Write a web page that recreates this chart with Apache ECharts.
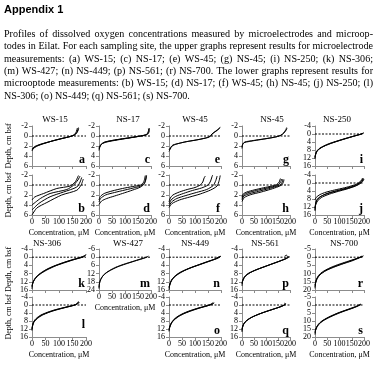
<!DOCTYPE html>
<html><head><meta charset="utf-8">
<script src="https://cdn.jsdelivr.net/npm/echarts@6/dist/echarts.min.js"></script>
<style>html,body{margin:0;padding:0;background:#fff}#c{width:377px;height:367px}</style>
</head><body><div id="c"></div>
<script>
// ---------- text ----------
const heading = 'Appendix 1';
const paragraphLines = [
 'Profiles of dissolved oxygen concentrations measured by microelectrodes and microop-',
 'todes in Eilat. For each sampling site, the upper graphs represent results for microelectrode',
 'measurements: (a) WS-15; (c) NS-17; (e) WS-45; (g) NS-45; (i) NS-250; (k) NS-306;',
 '(m) WS-427; (n) NS-449; (p) NS-561; (r) NS-700. The lower graphs represent results for',
 'microoptode measurements: (b) WS-15; (d) NS-17; (f) WS-45; (h) NS-45; (j) NS-250; (l)',
 'NS-306; (o) NS-449; (q) NS-561; (s) NS-700.'
];
const topTitles = ['WS-15','NS-17','WS-45','NS-45','NS-250'];
const lowTitles = ['NS-306','WS-427','NS-449','NS-561','NS-700'];
const xAxisName = 'Concentration, μM';
const yAxisName = 'Depth, cm bsf';
const concTicks = [0, 50, 100, 150, 200];
const zeroLineConc = [0, 200];

// ---------- profiles: [concentration µM, depth cm] ----------
const prof_a = [
 [[0,3.0],[5,2.5],[20,2.0],[45,1.5],[75,1.0],[105,0.6],[135,0.2],[152,-0.1],[162,-0.6],[166,-1.2],[168,-1.6]],
 [[0,2.8],[8,2.3],[25,1.8],[55,1.3],[85,0.85],[115,0.45],[142,0.1],[158,-0.2],[166,-0.7],[170,-1.3],[172,-1.7]],
 [[0,2.6],[10,2.1],[35,1.6],[65,1.15],[95,0.7],[125,0.3],[148,0],[162,-0.4],[170,-1.0],[173,-1.5]]
];
const prof_c = [
 [[0,2.9],[3,2.2],[10,1.6],[30,1.2],[70,0.8],[110,0.45],[150,0.1],[180,-0.2],[188,-0.7],[192,-1.4]],
 [[0,2.6],[5,2.0],[15,1.4],[40,1.0],[80,0.65],[120,0.35],[160,0],[184,-0.3],[191,-0.9],[194,-1.6]],
 [[0,2.4],[6,1.8],[20,1.25],[50,0.9],[90,0.55],[130,0.25],[168,-0.1],[188,-0.4],[193,-1.0],[190,-1.5]]
];
const prof_e = [
 [[0,3.1],[5,2.6],[12,2.0],[30,1.6],[60,1.2],[100,0.85],[140,0.4],[158,0.05],[165,-0.4],[180,-1.0],[192,-1.5],[198,-1.8]],
 [[0,2.8],[6,2.3],[15,1.8],[40,1.45],[75,1.05],[115,0.7],[150,0.3],[162,-0.05],[168,-0.5],[185,-1.1],[196,-1.6]]
];
const prof_g = [
 [[0,2.5],[2,1.8],[8,1.35],[30,1.1],[60,0.85],[100,0.55],[135,0.25],[160,-0.1],[175,-0.7],[183,-1.3],[186,-1.7]],
 [[0,2.2],[3,1.6],[12,1.2],[40,0.95],[75,0.7],[115,0.4],[148,0.1],[168,-0.3],[180,-0.9],[188,-1.5]]
];
const prof_i = [
 [[0,12.5],[1,11],[5,9],[15,7.5],[35,6],[60,4.7],[90,3.5],[125,2.2],[160,1.0],[185,0.2],[196,-0.4]],
 [[0,12],[2,10.5],[8,8.6],[20,7.2],[42,5.8],[68,4.5],[98,3.3],[132,2.0],[166,0.8],[190,0],[198,-0.6]],
 [[0,11.5],[3,10],[10,8.3],[25,6.9],[48,5.5],[75,4.3],[105,3.1],[140,1.8],[172,0.6],[193,-0.2],[199,-0.5]]
];
const prof_b = [
 [[0,3.0],[10,2.4],[43,1.7],[92,0.7],[141,0.2],[160,-0.6],[172,-1.9]],
 [[0,4.0],[31,2.7],[67,1.7],[129,0.9],[153,0.07],[170,-1.0],[178,-1.8]],
 [[0,5.0],[25,3.7],[67,2.35],[117,1.4],[166,0.4],[178,-0.6],[184,-1.5]],
 [[0,6.0],[18,4.6],[55,3.5],[110,2.0],[166,1.05],[182,0],[190,-1.2]]
];
const prof_d = [
 [[0,3.0],[5,2.3],[20,1.7],[50,1.2],[90,0.7],[130,0.3],[160,0],[172,-0.6],[178,-1.9]],
 [[0,3.4],[6,2.7],[25,2.0],[60,1.5],[100,1.0],[140,0.5],[165,0.1],[178,-0.7],[183,-1.9]],
 [[0,3.9],[10,3.2],[30,2.7],[60,2.2],[90,1.7],[130,1.0],[160,0.4],[175,-0.3],[182,-1.9]]
];
const prof_f = [
 [[0,3.4],[5,2.6],[15,2.0],[40,1.4],[70,0.9],[100,0.5],[120,0],[130,-0.6],[135,-1.4],[140,-1.8]],
 [[0,3.8],[8,3.0],[25,2.3],[55,1.7],[90,1.1],[125,0.6],[150,0],[160,-0.8],[165,-1.6],[168,-2]],
 [[0,4.2],[10,3.4],[30,2.7],[65,2.1],[105,1.5],[145,0.9],[170,0.1],[180,-0.9],[185,-1.8]],
 [[0,4.5],[12,3.7],[40,3.0],[80,2.4],[120,1.8],[160,1.0],[185,0.2],[193,-0.9],[197,-1.9]]
];
const prof_h = [
 [[0,2.4],[5,1.8],[20,1.4],[50,1.0],[90,0.55],[125,0.2],[145,-0.1],[155,-0.6],[160,-1.3]],
 [[0,2.7],[6,2.0],[25,1.55],[60,1.1],[100,0.65],[135,0.25],[152,-0.1],[162,-0.7],[165,-1.2]],
 [[0,3.0],[8,2.2],[30,1.75],[70,1.25],[110,0.75],[142,0.3],[158,0],[168,-0.6],[170,-1.2]],
 [[0,3.3],[10,2.5],[35,1.95],[80,1.4],[120,0.85],[150,0.35],[165,0],[172,-0.5],[175,-1.1]]
];
const prof_j = [
 [[0,13.5],[2,11],[6,9],[15,7.5],[35,6],[65,4.8],[100,3.7],[135,2.6],[165,1.4],[185,0],[195,-1.5],[198,-2.2]],
 [[0,12.5],[3,10],[10,8],[25,6.6],[50,5.2],[80,4.1],[115,3.0],[150,1.8],[175,0.5],[190,-1],[196,-2.3]],
 [[0,8.5],[5,7.2],[20,5.8],[45,4.6],[80,3.5],[120,2.4],[155,1.2],[178,0],[190,-1.5],[194,-2.5]],
 [[0,14],[1,12],[4,10.5],[12,8.7],[30,7],[60,5.5],[95,4.2],[130,3.0],[160,1.8],[182,0.5],[195,-0.8],[200,-2]]
];
const prof_k = [
 [[0,15.5],[2,13],[8,11],[20,9],[40,7],[65,5.2],[95,3.6],[130,2.0],[160,0.8],[185,-0.2],[195,-0.8]],
 [[0,14.5],[3,12.5],[12,10.3],[28,8.3],[50,6.4],[78,4.6],[110,3.0],[145,1.5],[175,0.4],[192,-0.3],[198,-1]],
 [[0,14],[5,12],[16,9.8],[35,7.8],[60,5.9],[90,4.1],[125,2.5],[158,1.1],[185,0.1],[196,-0.6],[200,-1.5]]
];
const prof_m = [
 [[0,23],[1,20],[4,17.5],[10,15],[20,12.5],[40,9.8],[65,7.3],[95,5.2],[130,3.1],[160,1.3],[180,0.2],[190,-0.8]],
 [[0,22],[2,19],[6,16.5],[14,14],[28,11.5],[50,9.0],[78,6.6],[110,4.5],[145,2.4],[172,0.8],[186,-0.2]]
];
const prof_n = [
 [[0,16],[3,13.5],[8,11.5],[20,9.5],[40,7.6],[70,5.8],[105,4.1],[140,2.5],[170,1.2],[190,0],[200,-0.5]],
 [[0,15],[4,13],[12,10.8],[28,8.8],[50,7.0],[82,5.2],[118,3.6],[152,2.0],[180,0.8],[196,-0.2]],
 [[0,14.5],[6,12.4],[16,10.3],[35,8.3],[60,6.5],[92,4.8],[128,3.2],[162,1.7],[188,0.5],[199,-0.4]]
];
const prof_p = [
 [[0,14],[2,12],[8,10],[22,8.2],[45,6.8],[75,5.4],[110,3.9],[145,2.4],[175,1.0],[190,0],[185,-1],[178,-0.6]],
 [[0,13],[3,11.5],[12,9.5],[30,7.8],[55,6.4],[88,4.9],[122,3.4],[158,1.9],[185,0.6],[195,-0.3]],
 [[0,12.5],[4,11],[15,9.1],[35,7.5],[62,6.0],[95,4.6],[130,3.1],[165,1.6],[190,0.4],[197,-0.5]]
];
const prof_r = [
 [[0,19],[2,16],[6,13.5],[15,11],[30,9],[55,6.9],[85,5],[120,3.2],[155,1.5],[180,0.2],[192,-0.7]],
 [[0,18],[3,15.5],[9,13],[22,10.5],[40,8.4],[68,6.4],[100,4.6],[135,2.8],[165,1.2],[185,0],[195,-0.5]],
 [[0,17],[4,14.5],[12,12],[28,9.8],[50,7.8],[82,5.8],[115,4.0],[150,2.3],[175,0.8],[190,-0.2],[198,-0.9]]
];
const prof_l = [
 [[0,12.8],[1,11],[4,9],[12,7.2],[28,5.4],[50,4],[80,2.6],[115,1.4],[145,0.4],[162,-0.3],[170,-1.2],[172,-1.8]],
 [[0,12.2],[2,10.5],[6,8.7],[16,7],[32,5.3],[56,3.9],[86,2.5],[120,1.3],[150,0.3],[165,-0.4],[174,-1.5]],
 [[0,11.8],[3,10],[8,8.3],[20,6.7],[38,5.1],[62,3.7],[92,2.4],[126,1.2],[155,0.2],[168,-0.6],[176,-1.2]]
];
const prof_o = [
 [[0,13.2],[2,11.5],[7,9.5],[16,7.6],[30,6.0],[50,4.5],[75,3.1],[105,1.8],[135,0.7],[158,-0.2],[170,-1.2]],
 [[0,12.6],[3,11],[9,9.1],[20,7.3],[35,5.8],[56,4.3],[82,3.0],[112,1.7],[142,0.6],[162,-0.2],[172,-0.9]],
 [[0,12.0],[4,10.5],[11,8.7],[24,7.0],[40,5.5],[62,4.1],[88,2.8],[118,1.5],[148,0.4],[165,-0.3],[174,-1.1]]
];
const prof_q = [
 [[0,13.5],[1,12],[5,10],[14,8.3],[30,6.8],[55,5.3],[85,3.9],[120,2.5],[152,1.2],[172,0.2],[180,-0.6],[176,-1.0]],
 [[0,12.8],[2,11.3],[8,9.4],[20,7.8],[38,6.3],[64,4.9],[95,3.5],[130,2.1],[160,0.9],[176,0],[182,-0.8]],
 [[0,12],[3,10.5],[11,8.8],[25,7.3],[45,5.9],[72,4.5],[104,3.1],[138,1.8],[165,0.7],[179,-0.1],[183,-0.5]]
];
const prof_s = [
 [[0,18.5],[2,16],[6,14],[14,12],[28,10],[48,8.2],[75,6.2],[105,4.3],[138,2.5],[165,1.0],[180,0],[185,-0.6]],
 [[0,17.5],[3,15.5],[9,13.3],[20,11.2],[38,9.2],[62,7.2],[92,5.2],[125,3.4],[155,1.8],[175,0.5],[186,-0.4]],
 [[0,16.5],[5,14.5],[15,12.2],[32,10],[58,7.8],[90,5.6],[120,3.8],[150,2.2],[172,0.9],[185,-0.1],[188,-0.5]]
];

// depth axis ranges [min, max, step]
const depthShallow = [-2, 6, 2];
const depthDeep = [-4, 16, 4];
const depthWS427 = [-6, 24, 6];
const depthNS700 = [-5, 20, 5];

// ---------- layout ----------
const SERIF = '"Liberation Serif", "DejaVu Serif", serif';
const AX = '#8c8c8c';
const colLeft = [32, 99, 169, 242, 315];
const colWidth = [54, 52, 52, 48, 49];
const rowTop = [126, 175, 249, 297];
const rowHeight = [40, 40, 41, 40];
const topTitleX = [55, 128, 195, 272, 337];
const lowTitleX = [47, 128, 195, 265, 344];
const letterDy = {l: -6};

// letter, row, col, depth range, show x labels, profiles
const panels = [
 ['a',0,0,depthShallow,false,prof_a], ['c',0,1,depthShallow,false,prof_c], ['e',0,2,depthShallow,false,prof_e],
 ['g',0,3,depthShallow,false,prof_g], ['i',0,4,depthDeep,false,prof_i],
 ['b',1,0,depthShallow,true,prof_b], ['d',1,1,depthShallow,true,prof_d], ['f',1,2,depthShallow,true,prof_f],
 ['h',1,3,depthShallow,true,prof_h], ['j',1,4,depthDeep,true,prof_j],
 ['k',2,0,depthDeep,false,prof_k], ['m',2,1,depthWS427,true,prof_m], ['n',2,2,depthDeep,false,prof_n],
 ['p',2,3,depthDeep,false,prof_p], ['r',2,4,depthNS700,false,prof_r],
 ['l',3,0,depthDeep,true,prof_l], ['o',3,2,depthDeep,true,prof_o],
 ['q',3,3,depthDeep,true,prof_q], ['s',3,4,depthNS700,true,prof_s]
];

const grid = [], xAxis = [], yAxis = [], series = [], graphic = [];
const txt = (o) => Object.assign({type:'text', silent:true}, o);

panels.forEach((p, i) => {
  const [letter, row, col, rng, xlab, curves] = p;
  const L = colLeft[col], T = rowTop[row], W = colWidth[col], H = rowHeight[row];
  grid.push({left: L, top: T, width: W, height: H, containLabel: false});
  xAxis.push({
    type: 'value', gridIndex: i, min: concTicks[0], max: concTicks[concTicks.length-1],
    interval: concTicks[1] - concTicks[0], position: 'bottom',
    axisLine: {show: true, onZero: false, lineStyle: {color: AX, width: 1}},
    axisTick: {show: true, length: 3, lineStyle: {color: AX}},
    axisLabel: {show: xlab, fontFamily: SERIF, fontSize: 8, color: '#000', margin: 3},
    splitLine: {show: false},
    name: xlab ? xAxisName : '', nameLocation: 'middle', nameGap: 14,
    nameTextStyle: {fontFamily: SERIF, fontSize: 8, color: '#000'}
  });
  yAxis.push({
    type: 'value', gridIndex: i, min: rng[0], max: rng[1], interval: rng[2], inverse: true,
    axisLine: {show: true, onZero: false, lineStyle: {color: AX, width: 1}},
    axisTick: {show: true, length: 3, lineStyle: {color: AX}},
    axisLabel: {fontFamily: SERIF, fontSize: 8, color: '#000', margin: 4},
    splitLine: {show: false},
    name: col === 0 ? yAxisName : '', nameLocation: 'middle', nameGap: 19, nameRotate: 90,
    nameTextStyle: {fontFamily: SERIF, fontSize: 8, color: '#000'}
  });
  series.push({
    type: 'line', xAxisIndex: i, yAxisIndex: i, data: zeroLineConc.map(c => [c, 0]),
    symbol: 'none', silent: true, animation: false,
    lineStyle: {color: '#000', width: 1, type: [2, 1.5]}, z: 1
  });
  curves.forEach(cv => series.push({
    type: 'line', xAxisIndex: i, yAxisIndex: i, data: cv, symbol: 'none', smooth: 0.25,
    silent: true, animation: false, lineStyle: {color: '#000', width: 1}, z: 3
  }));
  graphic.push(txt({
    x: L + W - 1, y: T + H + (letterDy[letter] || 0),
    style: {text: letter, font: 'bold 12px ' + SERIF, fill: '#000',
      textAlign: 'right', align: 'right', textVerticalAlign: 'bottom', verticalAlign: 'bottom'}
  }));
});

// site titles
[[topTitles, topTitleX, 120], [lowTitles, lowTitleX, 244]].forEach(([names, xs, y]) => {
  names.forEach((n, c) => graphic.push(txt({
    x: xs[c], y: y,
    style: {text: n, font: '9px ' + SERIF, fill: '#000', textAlign: 'center', align: 'center',
      textVerticalAlign: 'middle', verticalAlign: 'middle'}
  })));
});

// heading
graphic.push(txt({x: 4, y: 9.5, style: {text: heading, font: 'bold 11px "Liberation Sans", Arial, sans-serif',
  fill: '#000', textVerticalAlign: 'middle', verticalAlign: 'middle'}}));

// justified paragraph
const cv = document.createElement('canvas').getContext('2d');
const fam = '"Liberation Serif"';
cv.font = '10px ' + fam;
const w2 = cv.measureText(paragraphLines[1]).width;
const fs = 10 * 368 / w2;
cv.font = fs + 'px ' + fam;
const pLeft = 4, pRight = 373;
paragraphLines.forEach((line, li) => {
  const y = 34.5 + 12.3 * li;
  const words = line.split(' ');
  const last = li === paragraphLines.length - 1;
  const ww = words.map(w => cv.measureText(w).width);
  const total = ww.reduce((s, v) => s + v, 0);
  const gap = last ? cv.measureText(' ').width : (pRight - pLeft - total) / (words.length - 1);
  let x = pLeft;
  words.forEach((w, k) => {
    graphic.push(txt({x: x, y: y, style: {text: w, font: fs + 'px ' + fam, fill: '#000',
      textVerticalAlign: 'middle', verticalAlign: 'middle'}}));
    x += ww[k] + gap;
  });
});

const chart = echarts.init(document.getElementById('c'), null, {renderer: 'canvas'});
chart.setOption({animation: false, backgroundColor: '#fff', grid, xAxis, yAxis, series, graphic});
</script></body></html>
